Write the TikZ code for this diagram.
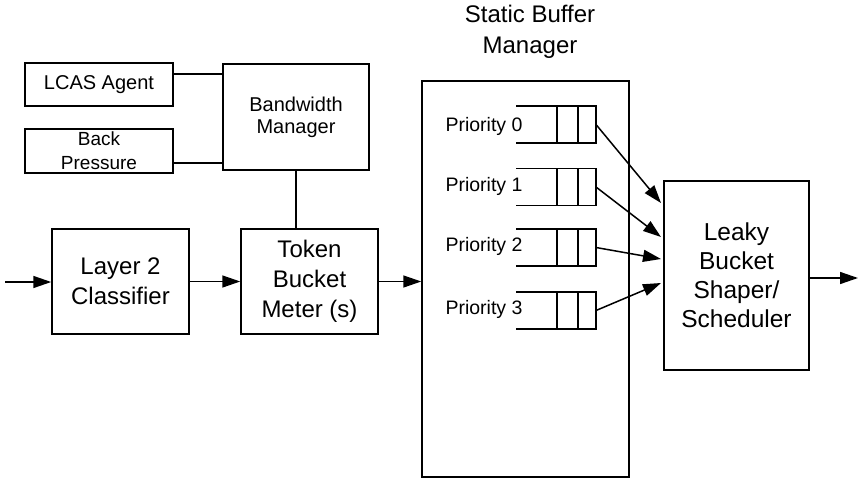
\documentclass[tikz,border=0pt]{standalone}
\usepackage{fontspec}
\setmainfont{Liberation Sans}
\usetikzlibrary{arrows.meta,calc}

\tikzset{
  blk/.style={draw, line width=1.5pt, align=center, inner sep=0pt},
  big/.style={font=\fontsize{24}{30}\selectfont},
  mid/.style={font=\fontsize{20}{22}\selectfont},
  wire/.style={line width=1.5pt},
  flow/.style={line width=1.5pt, -{Triangle[length=18pt,width=12pt]}},
  qlabel/.style={font=\fontsize{19.5}{22}\selectfont, inner sep=0pt}
}

\begin{document}
\begin{tikzpicture}[x=1pt, y=-1pt]
  \useasboundingbox (0,0) rectangle (860,479);

  % control blocks
  \node[blk, mid, minimum width=148pt, minimum height=43pt] (lcas) at (99,84.5) {LCAS Agent};
  \node[blk, mid, minimum width=148pt, minimum height=44pt,
        font=\fontsize{19}{24}\selectfont] (bp) at (99,151) {Back\\Pressure};
  \node[blk, mid, minimum width=146pt, minimum height=106pt] (bw) at (296,117) {Bandwidth\\Manager};

  % data path blocks
  \node[blk, big, minimum width=137pt, minimum height=105pt] (l2) at (120.5,281.5) {Layer 2\\Classifier};
  \node[blk, big, minimum width=137pt, minimum height=105pt] (tb) at (309.5,281.5) {Token\\Bucket\\Meter (s)};
  \node[blk, minimum width=207pt, minimum height=396pt] (sbm) at (525.5,279) {};
  \node[align=center, font=\fontsize{24}{31}\selectfont] (sbmt) at (530,32) {Static Buffer\\Manager};
  \node[blk, font=\fontsize{24.5}{29}\selectfont, minimum width=145pt, minimum height=189pt] (lb) at (736.5,275.5) {Leaky\\Bucket\\Shaper/\\Scheduler};

  % control wiring
  \draw[wire] ([yshift=10.5pt]lcas.east) -- ([yshift=10.5pt]lcas.east -| bw.west);
  \draw[wire] ([yshift=-12pt]bp.east) -- ([yshift=-12pt]bp.east -| bw.west);
  \draw[wire] (bw.south) -- (bw.south |- tb.north);

  % main flow
  \coordinate (in) at (5,282);
  \coordinate (out) at (858,278);
  \draw[flow] (in) -- (in -| l2.west);
  \draw[flow] (l2.east) -- (l2.east -| tb.west);
  \draw[flow] (tb.east) -- (tb.east -| sbm.west);
  \draw[flow] (out -| lb.east) -- (out);

  % priority queues
  \foreach \i/\y/\ly/\e in {0/124.5/126/203, 1/187/186/237, 2/247.5/246/259, 3/310.5/309/283}{
    \draw[wire] (516,\y-18.5) -- (596,\y-18.5) -- (596,\y+18.5) -- (516,\y+18.5);
    \draw[wire] (557,\y-18.5) -- (557,\y+18.5);
    \draw[wire] (578,\y-18.5) -- (578,\y+18.5);
    \node[qlabel] (p\i) at (484,\ly) {Priority \i};
    \coordinate (q\i) at (596,\y);
    \coordinate (e\i) at (661,\e);
    \draw[flow] (q\i) -- (e\i);
  }
\end{tikzpicture}
\end{document}
